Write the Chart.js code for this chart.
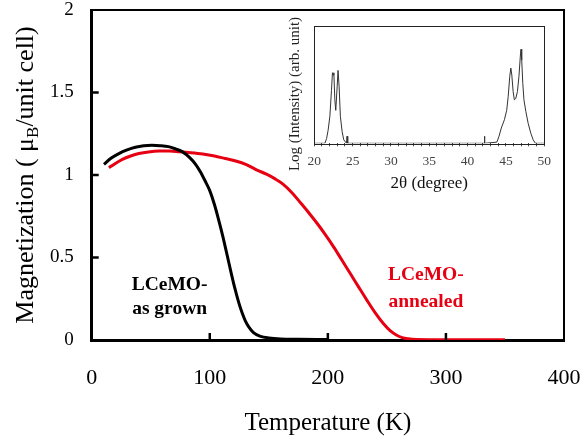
<!DOCTYPE html>
<html>
<head>
<meta charset="utf-8">
<script src="https://cdn.jsdelivr.net/npm/chart.js@4.4.1/dist/chart.umd.min.js"></script>
<style>
  html, body { margin: 0; padding: 0; background: #fff; }
  #wrap { position: relative; width: 582px; height: 440px; }
  #main { position: absolute; left: 0; top: 0; }
  #inset { position: absolute; left: 286px; top: 16px; }
</style>
</head>
<body>
<div id="wrap">
  <canvas id="main" width="582" height="440"></canvas>
  <canvas id="inset" width="272" height="182"></canvas>
</div>
<script>
// ---------- Main chart data ----------
const asGrownT = [10.4, 16, 23, 30, 37, 44, 51, 58, 65, 71, 77, 83, 88, 92, 96, 100, 104, 108, 111, 115, 118, 121, 124, 127, 130, 133, 137, 143, 150, 160, 175, 200];
const asGrownM = [1.065, 1.10, 1.13, 1.152, 1.168, 1.177, 1.18, 1.178, 1.172, 1.158, 1.14, 1.105, 1.065, 1.02, 0.965, 0.905, 0.82, 0.715, 0.63, 0.505, 0.41, 0.32, 0.24, 0.172, 0.118, 0.08, 0.045, 0.022, 0.012, 0.006, 0.004, 0.003];

const annealedT = [14.6, 20, 26, 33, 40, 48, 57, 66, 74, 84, 94, 104, 113, 122, 131, 140, 148, 155, 162, 170, 177, 184, 191, 198, 205, 212, 219, 226, 233, 240, 247, 253, 258, 263, 268, 275, 290, 320, 350];
const annealedM = [1.044, 1.07, 1.095, 1.115, 1.13, 1.14, 1.145, 1.145, 1.141, 1.135, 1.127, 1.115, 1.10, 1.085, 1.063, 1.03, 1.005, 0.978, 0.945, 0.89, 0.83, 0.77, 0.706, 0.637, 0.563, 0.483, 0.403, 0.322, 0.242, 0.166, 0.10, 0.055, 0.03, 0.014, 0.007, 0.003, 0.002, 0.002, 0.002];

const xTickValues = [0, 100, 200, 300, 400];
const yTickValues = [0, 0.5, 1, 1.5, 2];

// label anchors in data units
const asGrownLabel = { T: 66, lines: ["LCeMO-", "as grown"], M: [0.303, 0.158] };
const annealedLabel = { T: 283, lines: ["LCeMO-", "annealed"], M: [0.364, 0.2] };

// ---------- Inset (XRD) data ----------
const twoTheta = [20, 21.38, 21.6, 21.8, 22.03, 22.24, 22.37, 22.45, 22.55, 22.68, 22.8, 22.98, 23.1, 23.24, 23.4, 23.63, 23.84, 24.2, 24.27, 24.36, 42.15, 42.2, 42.25, 43.82, 44.1, 44.4, 44.8, 45.1, 45.3, 45.5, 45.64, 45.77, 45.94, 46.1, 46.28, 46.5, 46.7, 46.9, 46.97, 47.06, 47.2, 47.35, 47.6, 47.9, 48.25, 48.55, 48.85, 50];
const intensity = [0, 0, 0.04, 0.11, 0.23, 0.45, 0.60, 0.58, 0.60, 0.37, 0.28, 0.48, 0.62, 0.48, 0.23, 0.10, 0.03, 0, 0.06, 0, 0, 0.06, 0, 0.01, 0.06, 0.13, 0.20, 0.28, 0.40, 0.57, 0.64, 0.58, 0.44, 0.37, 0.38, 0.44, 0.57, 0.76, 0.80, 0.71, 0.51, 0.37, 0.27, 0.17, 0.085, 0.03, 0, 0];

const SERIF = "'Liberation Serif', 'Times New Roman', serif";
const RED = '#e60012';

function pts(xs, ys) { return xs.map((x, i) => ({ x: x, y: ys[i] })); }

// ---------- Plugins ----------
const mainDecor = {
  id: 'mainDecor',
  afterDraw(chart) {
    const ctx = chart.ctx, a = chart.chartArea;
    const xs = chart.scales.x, ys = chart.scales.y;
    ctx.save();
    // top & right frame
    ctx.strokeStyle = '#000';
    ctx.lineWidth = 2;
    ctx.beginPath();
    ctx.moveTo(a.left, a.top); ctx.lineTo(a.right, a.top); ctx.lineTo(a.right, a.bottom);
    ctx.stroke();
    // inward tick marks
    ctx.lineWidth = 2.5;
    xs.ticks.forEach(t => {
      if (t.value <= xs.min || t.value >= xs.max) return;
      const p = xs.getPixelForValue(t.value);
      ctx.beginPath(); ctx.moveTo(p, a.bottom); ctx.lineTo(p, a.bottom - 7); ctx.stroke();
    });
    ys.ticks.forEach(t => {
      if (t.value <= ys.min || t.value >= ys.max) return;
      const p = ys.getPixelForValue(t.value);
      ctx.beginPath(); ctx.moveTo(a.left, p); ctx.lineTo(a.left + 7, p); ctx.stroke();
    });
    // curve labels
    ctx.font = "bold 19.5px " + SERIF;
    ctx.textAlign = 'center';
    ctx.textBaseline = 'alphabetic';
    ctx.fillStyle = '#000';
    asGrownLabel.lines.forEach((s, i) => ctx.fillText(s, xs.getPixelForValue(asGrownLabel.T), ys.getPixelForValue(asGrownLabel.M[i])));
    ctx.fillStyle = RED;
    annealedLabel.lines.forEach((s, i) => ctx.fillText(s, xs.getPixelForValue(annealedLabel.T), ys.getPixelForValue(annealedLabel.M[i])));
    // y-axis title with subscript
    const big = "26px " + SERIF, small = "17px " + SERIF;
    const p1 = "Magnetization ( \u03BC", p2 = "B", p3 = "/unit cell)";
    ctx.font = big; const w1 = ctx.measureText(p1).width, w3 = ctx.measureText(p3).width;
    ctx.font = small; const w2 = ctx.measureText(p2).width;
    const total = w1 + w2 + w3;
    ctx.translate(33, (a.top + a.bottom) / 2);
    ctx.rotate(-Math.PI / 2);
    ctx.fillStyle = '#000';
    ctx.textAlign = 'left';
    let x0 = -total / 2;
    ctx.font = big; ctx.fillText(p1, x0, 0); x0 += w1;
    ctx.font = small; ctx.fillText(p2, x0, 5); x0 += w2;
    ctx.font = big; ctx.fillText(p3, x0, 0);
    ctx.restore();
  }
};

const insetDecor = {
  id: 'insetDecor',
  afterDraw(chart) {
    const ctx = chart.ctx, a = chart.chartArea;
    ctx.save();
    ctx.strokeStyle = '#222';
    ctx.lineWidth = 1;
    ctx.strokeRect(Math.round(a.left) + 0.5, Math.round(a.top) + 0.5, Math.round(a.right - a.left), Math.round(a.bottom - a.top));
    ctx.font = "15px " + SERIF;
    ctx.fillStyle = '#222';
    ctx.textAlign = 'center';
    ctx.textBaseline = 'middle';
    ctx.translate(9.5, 78);
    ctx.rotate(-Math.PI / 2);
    ctx.fillText("Log (Intensity) (arb. unit)", 0, 0);
    ctx.restore();
  }
};

// ---------- Main chart ----------
new Chart(document.getElementById('main'), {
  type: 'line',
  data: {
    datasets: [
      { label: 'LCeMO-as grown', data: pts(asGrownT, asGrownM), borderColor: '#000', borderWidth: 3, pointRadius: 0, cubicInterpolationMode: 'monotone', fill: false },
      { label: 'LCeMO-annealed', data: pts(annealedT, annealedM), borderColor: RED, borderWidth: 3, pointRadius: 0, cubicInterpolationMode: 'monotone', fill: false }
    ]
  },
  options: {
    responsive: false,
    animation: false,
    devicePixelRatio: 1,
    layout: { padding: { left: 0, top: 10, right: 18, bottom: 0 } },
    plugins: { legend: { display: false }, tooltip: { enabled: false } },
    scales: {
      x: {
        type: 'linear', min: 0, max: 400,
        afterBuildTicks: s => { s.ticks = xTickValues.map(v => ({ value: v })); },
        afterFit: s => { s.height = 100; },
        grid: { display: true, drawOnChartArea: false, drawTicks: true, tickLength: 25, color: 'rgba(0,0,0,0)' },
        border: { display: true, color: '#000', width: 3 },
        ticks: { color: '#000', font: { family: SERIF, size: 22 }, padding: 0, maxRotation: 0, callback: v => String(v) },
        title: { display: true, text: 'Temperature (K)', color: '#000', font: { family: SERIF, size: 25 }, padding: { top: 2, bottom: 2 } }
      },
      y: {
        type: 'linear', min: 0, max: 2,
        afterBuildTicks: s => { s.ticks = yTickValues.map(v => ({ value: v })); },
        afterFit: s => { s.width = 91.7; },
        grid: { display: true, drawOnChartArea: false, drawTicks: true, tickLength: 18, color: 'rgba(0,0,0,0)' },
        border: { display: true, color: '#000', width: 3 },
        ticks: { color: '#000', font: { family: SERIF, size: 19, lineHeight: 1 }, padding: 0, callback: v => String(v) }
      }
    }
  },
  plugins: [mainDecor]
});

// ---------- Inset chart ----------
new Chart(document.getElementById('inset'), {
  type: 'line',
  data: {
    datasets: [
      { data: pts(twoTheta, intensity), borderColor: '#333', borderWidth: 1, pointRadius: 0, tension: 0, fill: false }
    ]
  },
  options: {
    responsive: false,
    animation: false,
    devicePixelRatio: 1,
    layout: { padding: { left: 0, top: 9.7, right: 12, bottom: 0 } },
    plugins: { legend: { display: false }, tooltip: { enabled: false } },
    scales: {
      x: {
        type: 'linear', min: 20, max: 50,
        ticks: { stepSize: 1, autoSkip: false, maxRotation: 0, color: '#444', font: { family: SERIF, size: 13.5 }, padding: 7,
                 callback: v => (v % 5 === 0 ? String(v) : '') },
        afterFit: s => { s.height = 54.7; },
        grid: { drawOnChartArea: false, drawTicks: true, tickLength: 3, color: '#444', lineWidth: 1 },
        border: { display: false },
        title: { display: true, text: '2\u03B8 (degree)', color: '#111', font: { family: SERIF, size: 17 }, padding: { top: 4, bottom: 4 } }
      },
      y: {
        type: 'linear', min: 0, max: 1,
        afterFit: s => { s.width = 28.3; },
        ticks: { display: false },
        grid: { display: false },
        border: { display: false }
      }
    }
  },
  plugins: [insetDecor]
});
</script>
</body>
</html>
